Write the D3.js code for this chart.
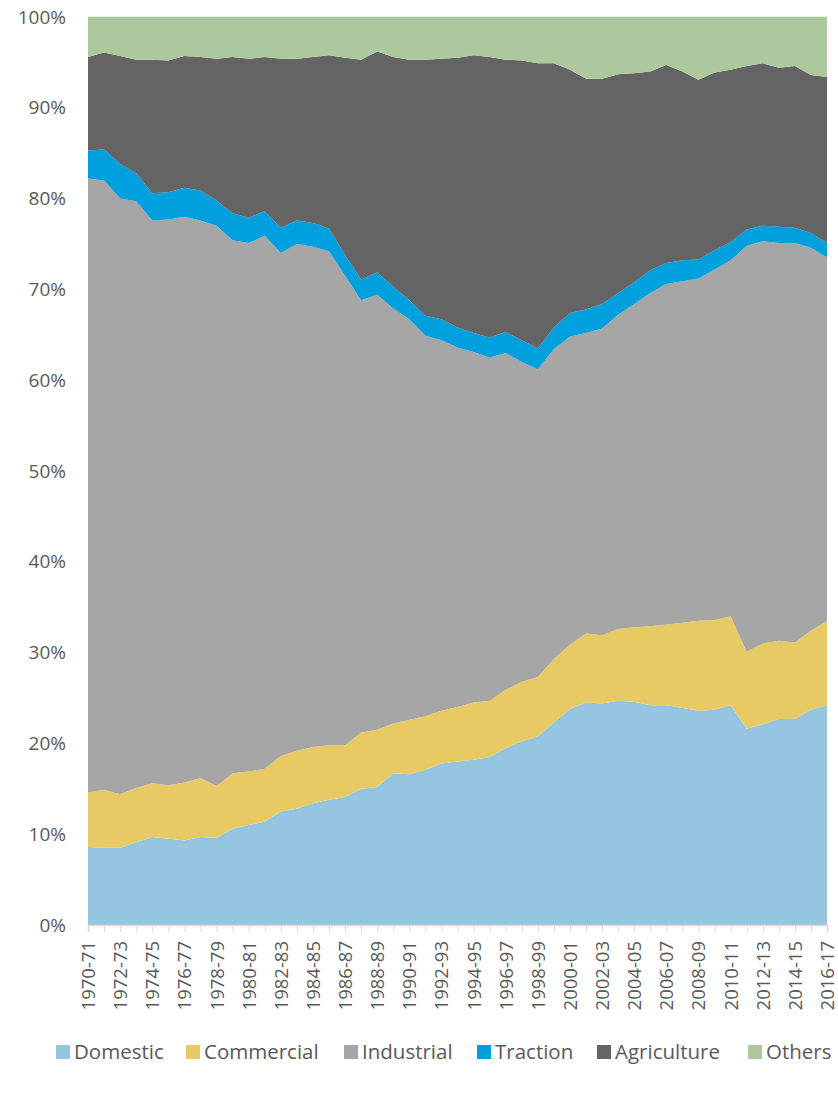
<!DOCTYPE html>
<html>
<head>
<meta charset="utf-8">
<script src="https://cdn.jsdelivr.net/npm/d3@7"></script>
<style>
  body { margin: 0; background: #fff; }
  text { font-family: "Open Sans", sans-serif; fill: #595959; }
</style>
</head>
<body>
<svg id="chart" width="838" height="1094"></svg>
<script>
// share of electricity consumption by sector, %
var years = ["1970-71","1971-72","1972-73","1973-74","1974-75","1975-76","1976-77","1977-78","1978-79","1979-80",
  "1980-81","1981-82","1982-83","1983-84","1984-85","1985-86","1986-87","1987-88","1988-89","1989-90",
  "1990-91","1991-92","1992-93","1993-94","1994-95","1995-96","1996-97","1997-98","1998-99","1999-00",
  "2000-01","2001-02","2002-03","2003-04","2004-05","2005-06","2006-07","2007-08","2008-09","2009-10",
  "2010-11","2011-12","2012-13","2013-14","2014-15","2015-16","2016-17"]

var domestic = [8.6,8.5,8.5,9.1,9.7,9.5,9.3,9.7,9.6,10.6,11.0,11.4,12.5,12.8,13.4,13.8,14.1,15.0,15.2,16.7,16.6,17.1,17.8,18.0,18.2,18.5,19.5,20.2,20.8,22.3,23.8,24.5,24.4,24.7,24.6,24.2,24.2,23.9,23.6,23.7,24.2,21.6,22.1,22.7,22.7,23.7,24.2]
var commercial = [6.0,6.4,5.9,6.0,5.9,5.9,6.4,6.5,5.7,6.1,5.9,5.8,6.1,6.4,6.2,6.0,5.7,6.2,6.3,5.5,6.0,5.9,5.8,6.0,6.3,6.2,6.4,6.6,6.5,7.0,7.1,7.6,7.5,7.9,8.2,8.7,8.9,9.4,9.9,9.9,9.8,8.5,8.9,8.6,8.4,8.7,9.3]
var industrial = [67.6,67.1,65.6,64.6,62.0,62.3,62.3,61.4,61.7,58.7,58.2,58.7,55.4,55.8,55.1,54.4,51.7,47.6,47.9,45.7,44.1,41.9,40.8,39.6,38.6,37.8,37.1,35.2,33.9,34.1,33.9,33.1,33.8,34.6,35.6,36.7,37.5,37.6,37.7,38.6,39.2,44.7,44.3,43.8,44.0,42.2,40.0]
var traction = [3.1,3.4,3.8,3.1,3.0,3.0,3.2,3.3,2.8,3.0,2.8,2.7,2.8,2.6,2.6,2.5,2.3,2.3,2.5,2.4,2.1,2.2,2.3,2.2,2.1,2.2,2.3,2.4,2.3,2.4,2.6,2.6,2.7,2.4,2.4,2.5,2.3,2.3,2.1,2.1,2.0,1.8,1.7,1.8,1.7,1.6,1.6]
var agriculture = [10.3,10.7,11.9,12.5,14.7,14.5,14.5,14.7,15.6,17.2,17.5,17.0,18.6,17.8,18.3,19.1,21.7,24.2,24.3,25.3,26.5,28.2,28.7,29.7,30.6,30.9,30.0,30.8,31.4,29.1,26.8,25.4,24.8,24.1,23.0,21.9,21.8,20.8,19.8,19.6,19.0,18.0,17.9,17.5,17.8,17.4,18.3]
var others = [4.4,3.9,4.3,4.7,4.7,4.8,4.3,4.4,4.6,4.4,4.6,4.4,4.6,4.6,4.4,4.2,4.5,4.7,3.8,4.4,4.7,4.7,4.6,4.5,4.2,4.4,4.7,4.8,5.1,5.1,5.8,6.8,6.8,6.3,6.2,6.0,5.3,6.0,6.9,6.1,5.8,5.4,5.1,5.6,5.4,6.4,6.6]

var seriesNames = ["Domestic","Commercial","Industrial","Traction","Agriculture","Others"]
var seriesValues = [domestic, commercial, industrial, traction, agriculture, others]
var colors = ["#95c5e0","#e8ca65","#a6a6a6","#00a0df","#636463","#aec89e"]
var yTicks = [0,0.1,0.2,0.3,0.4,0.5,0.6,0.7,0.8,0.9,1]

var rows = years.map(function(y, i) {
    var r = {year: y}
    seriesNames.forEach(function(s, k) { r[s] = seriesValues[k][i] })
    return r
})

var margin = {left: 88, right: 11, top: 17, bottom: 169}
var width = 838 - margin.left - margin.right
var height = 1094 - margin.top - margin.bottom

var svg = d3.select("#chart")
var g = svg.append("g").attr("transform", "translate(" + margin.left + "," + margin.top + ")")

var x = d3.scalePoint().domain(years).range([0, width])
var y = d3.scaleLinear().domain([0, 1]).range([height, 0])

var stack = d3.stack().keys(seriesNames).offset(d3.stackOffsetExpand)
var layers = stack(rows)

// gridlines
g.selectAll(".grid")
    .data(yTicks)
    .enter().append("line")
    .attr("class", "grid")
    .attr("x1", 0).attr("x2", width)
    .attr("y1", function(d) { return y(d) }).attr("y2", function(d) { return y(d) })
    .attr("stroke", "#d9d9d9")

var area = d3.area()
    .x(function(d) { return x(d.data.year) })
    .y0(function(d) { return y(d[0]) })
    .y1(function(d) { return y(d[1]) })

g.selectAll(".layer")
    .data(layers)
    .enter().append("path")
    .attr("class", "layer")
    .attr("d", area)
    .attr("fill", function(d, i) { return colors[i] })

// y axis labels
var yAxis = d3.axisLeft(y).tickValues(yTicks).tickFormat(d3.format(".0%")).tickSize(0).tickPadding(22)
var ya = g.append("g").call(yAxis)
ya.select(".domain").remove()
ya.selectAll("text").style("font-size", "19px").style("font-family", "Open Sans").attr("fill", "#595959")

// x axis
var xAxis = d3.axisBottom(x).tickSize(7).tickFormat(function(d, i) { return i % 2 == 0 ? d : "" })
var xa = g.append("g").attr("transform", "translate(0," + height + ")").call(xAxis)
xa.select(".domain").attr("stroke", "#d9d9d9").attr("stroke-width", 1.5)
xa.selectAll(".tick line").attr("stroke", "#d9d9d9")
xa.selectAll("text")
    .style("font-size", "18.5px").style("font-family", "Open Sans").attr("fill", "#595959")
    .attr("transform", "rotate(-90)")
    .attr("text-anchor", "end")
    .attr("x", -16).attr("y", 0).attr("dy", "0.35em")

// legend
var legendX = [56, 186, 344, 477, 597, 748]
var legend = svg.append("g").attr("transform", "translate(0,1052)")
var items = legend.selectAll(".leg")
    .data(seriesNames)
    .enter().append("g")
    .attr("class", "leg")
    .attr("transform", function(d, i) { return "translate(" + legendX[i] + ",0)" })
items.append("rect")
    .attr("x", 0).attr("y", -7).attr("width", 14).attr("height", 14)
    .attr("fill", function(d, i) { return colors[i] })
items.append("text")
    .attr("x", 18).attr("y", 0).attr("dy", "0.35em")
    .style("font-size", "20.5px")
    .text(function(d) { return d })
</script>
</body>
</html>
